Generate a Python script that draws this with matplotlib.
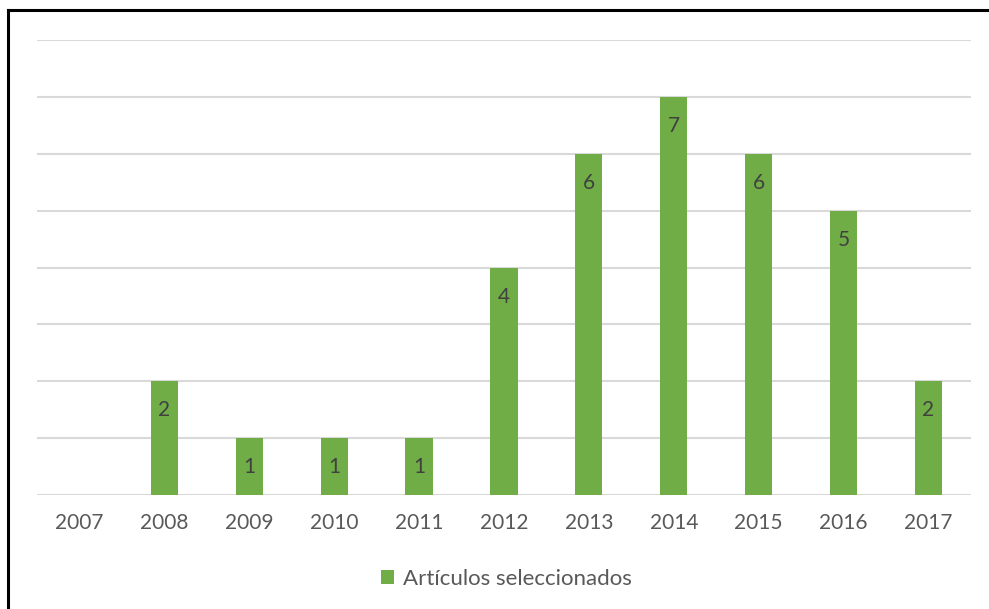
import matplotlib.pyplot as plt
from matplotlib.lines import Line2D

plt.rcParams['font.family'] = ['Lato', 'DejaVu Sans']

anios = ['2007', '2008', '2009', '2010', '2011', '2012', '2013', '2014', '2015', '2016', '2017']
articulos = [0, 2, 1, 1, 1, 4, 6, 7, 6, 5, 2]

fig = plt.figure(figsize=(9.89, 6.09), dpi=100)
ax = fig.add_axes([0.0374, 0.1872, 0.9444, 0.7471])

x = range(len(anios))
barras = ax.bar(x, articulos, width=0.32, color='#70ad47', zorder=3,
                label='Artículos seleccionados')

# etiquetas dentro de la barra, cerca del extremo superior
for xi, v in zip(x, articulos):
    if v > 0:
        ax.text(xi, v - 0.51, str(v), ha='center', va='center',
                fontsize=15, color='#404040', zorder=4)

ax.set_xlim(-0.5, len(anios) - 0.5)
ax.set_ylim(0, 8)
ax.set_yticks(range(0, 9))
ax.set_yticklabels([])
ax.yaxis.grid(True, color='#d9d9d9', linewidth=1.5, zorder=0)
ax.tick_params(axis='y', length=0)
ax.tick_params(axis='x', length=0, pad=13, labelsize=15, labelcolor='#595959')
ax.set_xticks(list(x))
ax.set_xticklabels(anios)
for s in ax.spines.values():
    s.set_visible(False)

fig.legend(handles=[barras], loc='center', bbox_to_anchor=(0.512, 0.049),
           frameon=False, fontsize=16, labelcolor='#595959',
           handlelength=0.6, handleheight=0.6, handletextpad=0.4)

# borde del marco
fig.add_artist(Line2D([0.0081, 0.0081], [0, 0.9836], color='black', linewidth=2.2))
fig.add_artist(Line2D([0.0081, 1], [0.9836, 0.9836], color='black', linewidth=2.2))

fig.savefig('out.png', dpi=100)
